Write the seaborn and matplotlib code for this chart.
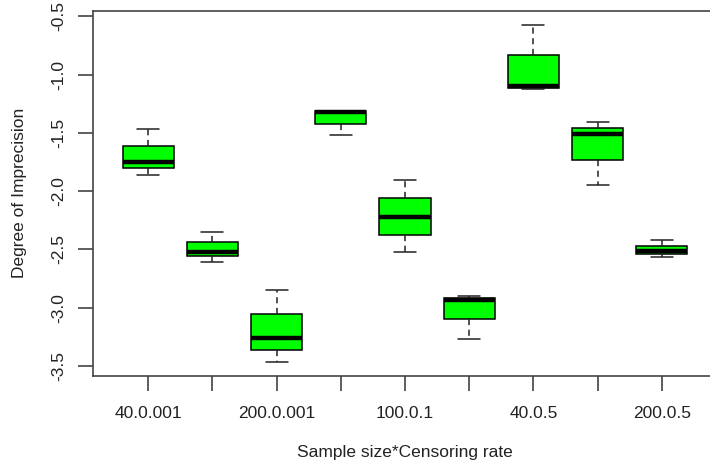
import matplotlib
matplotlib.use("Agg")
import matplotlib.pyplot as plt
import seaborn as sns
import pandas as pd

# Sample size * censoring rate combinations (all nine groups)
groups = ["40.0.001", "100.0.001", "200.0.001",
          "40.0.1", "100.0.1", "200.0.1",
          "40.0.5", "100.0.5", "200.0.5"]

# Five-number summaries of the degree of imprecision for each group
lower_whisker = [-1.860, -2.605, -3.471, -1.522, -2.525, -3.268, -1.126, -1.948, -2.565]
lower_quartile = [-1.805, -2.557, -3.368, -1.428, -2.374, -3.099, -1.114, -1.734, -2.542]
median = [-1.748, -2.525, -3.265, -1.322, -2.222, -2.934, -1.097, -1.514, -2.511]
upper_quartile = [-1.611, -2.434, -3.059, -1.311, -2.062, -2.919, -0.834, -1.460, -2.468]
upper_whisker = [-1.468, -2.348, -2.848, -1.311, -1.905, -2.899, -0.571, -1.405, -2.419]

# Only every other category label fits under the axis
tick_labels = ["40.0.001", "", "200.0.001", "", "100.0.1", "", "40.0.5", "", "200.0.5"]
y_ticks = [-3.5, -3.0, -2.5, -2.0, -1.5, -1.0, -0.5]

rows = []
for i, g in enumerate(groups):
    for v in (lower_whisker[i], lower_quartile[i], median[i],
              upper_quartile[i], upper_whisker[i]):
        rows.append({"group": g, "value": v})
df = pd.DataFrame(rows)

sns.set_style("white")
plt.rcParams["font.family"] = ["Liberation Sans", "DejaVu Sans"]

fig = plt.figure(figsize=(7.1, 4.68), dpi=100)
ax = fig.add_axes([93 / 710, 1 - 376 / 468, 624 / 710, 365 / 468])

sns.boxplot(
    data=df, x="group", y="value", order=groups, ax=ax,
    color="#00FF00", saturation=1, width=0.8, whis=(0, 100),
    linecolor="black", linewidth=1.1,
    medianprops=dict(linewidth=3.2, color="black"),
    whiskerprops=dict(linestyle=(0, (4, 3)), linewidth=1.1, color="#222222"),
    capprops=dict(linewidth=1.1, color="#222222"),
    capwidths=0.34,
)

ax.set_xlim(-0.86, 8.86)
ax.set_ylim(-3.587, -0.455)
ax.set_xticks(range(len(groups)))
ax.set_xticklabels(tick_labels)
ax.set_yticks(y_ticks)
ax.set_yticklabels([f"{t:.1f}" for t in y_ticks], rotation=90, va="center")

ax.tick_params(axis="both", which="major", direction="out", length=10.5,
               width=1.1, color="#333333", labelsize=12.5, labelcolor="#222222",
               bottom=True, left=True, top=False, right=False)
ax.tick_params(axis="x", pad=11)
ax.tick_params(axis="y", pad=9)

for side in ("left", "bottom", "top", "right"):
    ax.spines[side].set_visible(True)
    ax.spines[side].set_color("#444444")
    ax.spines[side].set_linewidth(1.2)

ax.set_xlabel("")
ax.set_ylabel("")
fig.text(405 / 710, 1 - 452 / 468, "Sample size*Censoring rate",
         ha="center", va="center", fontsize=12.5, color="#222222")
fig.text(20 / 710, 1 - 193 / 468, "Degree of Imprecision", rotation=90,
         ha="center", va="center", fontsize=12.5, color="#222222")

fig.savefig("out.png", dpi=100)
